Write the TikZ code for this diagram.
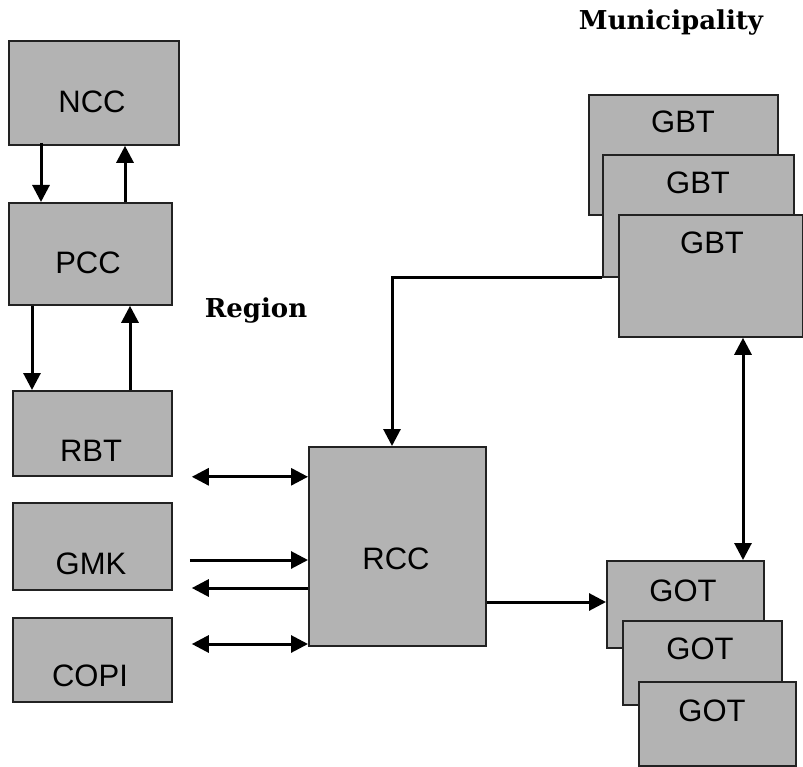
\documentclass[tikz,border=0pt]{standalone}
\usepackage{fontspec}
\setmainfont{Liberation Sans}
\newfontfamily\headfont{DejaVu Serif}
\usetikzlibrary{arrows.meta,calc}
\definecolor{boxfill}{RGB}{179,179,179}
\definecolor{boxline}{RGB}{34,34,34}
\begin{document}
\begin{tikzpicture}[x=1pt,y=-1pt,
  box/.style={draw=boxline,line width=1.8pt,fill=boxfill,rectangle,inner sep=0pt,anchor=north west},
  tag/.style={font=\fontsize{31}{31}\selectfont,anchor=base,inner sep=0pt},
  head/.style={font=\headfont\bfseries\fontsize{26}{26}\selectfont,anchor=base,inner sep=0pt},
  arr/.style={line width=3pt,-{Triangle[length=17pt,width=17pt]}},
  darr/.style={line width=3pt,{Triangle[length=17pt,width=17pt]}-{Triangle[length=17pt,width=17pt]}}]
\useasboundingbox (0,0) rectangle (803,767);

% left column
\node[box,minimum width=170pt,minimum height=104pt] (ncc) at (8,40) {};
\node[tag] (ncct) at (92,113) {NCC};
\node[box,minimum width=163pt,minimum height=102pt] (pcc) at (8,202) {};
\node[tag] (pcct) at (88,274) {PCC};
\node[box,minimum width=159pt,minimum height=85pt] (rbt) at (12,390) {};
\node[tag] (rbtt) at (91,461) {RBT};
\node[box,minimum width=159pt,minimum height=87pt] (gmk) at (12,502) {};
\node[tag] (gmkt) at (91,574) {GMK};
\node[box,minimum width=159pt,minimum height=84pt] (copi) at (12,617) {};
\node[tag] (copit) at (90,686) {COPI};

% central controller
\node[box,minimum width=177pt,minimum height=199pt] (rcc) at (308,446) {};
\node[tag] (rcct) at (396,569) {RCC};

% municipality stacks
\node[box,minimum width=189pt,minimum height=120pt] (gbt1) at (588,94) {};
\node[tag] (gbt1t) at (683,133) {GBT};
\node[box,minimum width=191pt,minimum height=122pt] (gbt2) at (602,154) {};
\node[tag] (gbt2t) at (698,194) {GBT};
\node[box,minimum width=184pt,minimum height=122pt] (gbt3) at (618,214) {};
\node[tag] (gbt3t) at (712,254) {GBT};

\node[box,minimum width=157pt,minimum height=87pt] (got1) at (606,560) {};
\node[tag] (got1t) at (683,601) {GOT};
\node[box,minimum width=159pt,minimum height=84pt] (got2) at (622,620) {};
\node[tag] (got2t) at (700,659) {GOT};
\node[box,minimum width=157pt,minimum height=84pt] (got3) at (638,681) {};
\node[tag] (got3t) at (712,721) {GOT};

% level captions
\node[head] (muni) at (671,30) {Municipality};
\node[head] (region) at (256,317) {Region};

% vertical links
\draw[arr] ([shift={(33,-3)}]ncc.south west) -- ([xshift=33pt]pcc.north west);
\draw[arr] ([xshift=117pt]pcc.north west) -- ([xshift=117pt]ncc.south west);
\draw[arr] ([xshift=24pt]pcc.south west) -- ([xshift=20pt]rbt.north west);
\draw[arr] ([xshift=118pt]rbt.north west) -- ([xshift=122pt]pcc.south west);

% links to RCC
\draw[darr] ([xshift=19pt]rbt.south east) -- (rbt.south east -| rcc.west);
\draw[arr] ([shift={(17,58)}]gmk.north east) -- ([shift={(0,114)}]rcc.north west);
\draw[arr] ([shift={(0,142)}]rcc.north west) -- ([shift={(19,86)}]gmk.north east);
\draw[darr] ([shift={(19,27)}]copi.north east) -- ([shift={(0,198)}]rcc.north west);

% links on the right
\draw[arr] (gbt2.south west) -| ([xshift=84pt]rcc.north west);
\draw[darr] ([xshift=125pt]gbt3.south west) -- ([xshift=137pt]got1.north west);
\draw[arr] ([shift={(0,156)}]rcc.north east) -- ([shift={(0,42)}]got1.north west);
\end{tikzpicture}
\end{document}
